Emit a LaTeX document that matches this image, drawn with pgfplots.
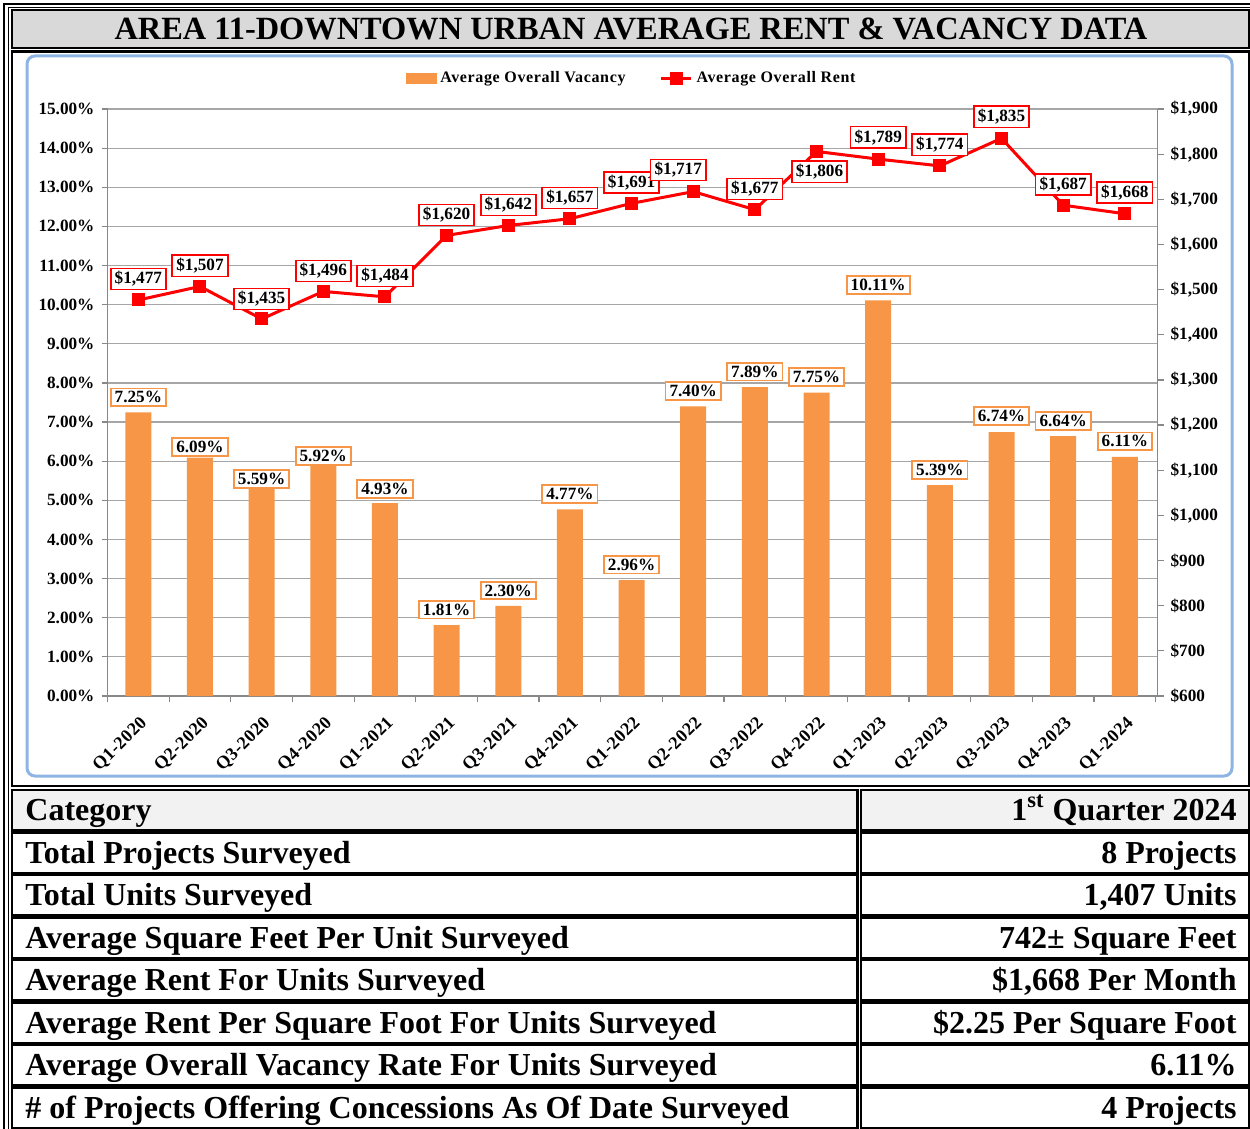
\documentclass[border=0pt]{standalone}
\usepackage{fontspec}
\setmainfont{Liberation Serif}
\usepackage{pgfplots}
\usepackage{pgfplotstable}
\pgfplotsset{compat=1.18}
\definecolor{barorange}{HTML}{F79646}
\definecolor{rentred}{HTML}{FF0000}
\definecolor{frameblue}{HTML}{8DB4E2}
\definecolor{titlegray}{HTML}{D9D9D9}
\definecolor{rowgray}{HTML}{F2F2F2}
\definecolor{gridgray}{HTML}{A6A6A6}
\definecolor{axisgray}{HTML}{888888}

\pgfplotstableread{
x vac vy rent rx ry
0 7.25 7.5 1477 0 10.5
1 6.09 5.4 1507 0 10.25
2 5.59 -0.85 1435 0 10
3 5.92 4.15 1496 0 10.2
4 4.93 7 1484 0 10.4
5 1.81 7.75 1620 0 10.2
6 2.30 7.75 1642 0 10.25
7 4.77 7.75 1657 0 10.35
8 2.96 7.75 1691 0 10.5
9 7.40 7.75 1717 -7.5 10.8
10 7.89 7.75 1677 0 10.35
11 7.75 7.75 1806 1.5 -10.25
12 10.11 7.75 1789 0 11
13 5.39 7.5 1774 0 10.5
14 6.74 8 1835 0 10.7
15 6.64 7.5 1687 0 10.5
16 6.11 7.75 1668 0 10.5
}\data

\newcommand{\lblfont}{\fontsize{8.6}{10}\selectfont\bfseries}
\newcommand{\xlblfont}{\fontsize{9}{10}\selectfont\bfseries\addfontfeatures{LetterSpace=3}}
\newcommand{\tabfont}{\fontsize{16}{19}\selectfont\bfseries}
\newcommand{\trow}[4]{%
  \draw[line width=1.3pt, fill=#4] (12,#1) rectangle (857.5,{#1+40.5});
  \draw[line width=1.3pt, fill=#4] (861,#1) rectangle (1249,{#1+40.5});
  \node[anchor=base west, inner sep=0pt, font=\tabfont] at (25,{#1+30.5}) {#2};
  \node[anchor=base east, inner sep=0pt, font=\tabfont] at (1237,{#1+30.5}) {#3};
}

\begin{document}
\begin{tikzpicture}
\begin{scope}[x=0.5pt,y=-0.5pt]
\useasboundingbox (0,0) rectangle (1250,1129);
\draw[line width=1.3pt] (4,4) rectangle (1270,1150);
\draw[line width=0.5pt] (8,8) rectangle (1266,1146);
\draw[line width=1.3pt, fill=titlegray] (12,10) rectangle (1249,48);
\node[anchor=base, inner sep=0pt, font=\fontsize{16.2}{19}\selectfont\bfseries] at (631,39.5) {AREA 11-DOWNTOWN URBAN AVERAGE RENT \& VACANCY DATA};
\draw[line width=1.3pt] (12,51.5) rectangle (1249,786);
\draw[line width=1.5pt, frameblue, rounded corners=4pt] (27,56) rectangle (1232,776);
\trow{790}{Category}{1\textsuperscript{st} Quarter 2024}{rowgray}
\trow{832.5}{Total Projects Surveyed}{8 Projects}{white}
\trow{875}{Total Units Surveyed}{1,407 Units}{white}
\trow{917.5}{Average Square Feet Per Unit Surveyed}{742± Square Feet}{white}
\trow{960}{Average Rent For Units Surveyed}{\$1,668 Per Month}{white}
\trow{1002.5}{Average Rent Per Square Foot For Units Surveyed}{\$2.25 Per Square Foot}{white}
\trow{1045}{Average Overall Vacancy Rate For Units Surveyed}{6.11\%}{white}
\trow{1087.5}{\# of Projects Offering Concessions As Of Date Surveyed}{4 Projects}{white}
\end{scope}

\begin{axis}[
  at={(53.75pt,-348pt)}, anchor=south west,
  width=525pt, height=293.5pt, scale only axis,
  xmin=-0.5, xmax=16.53, ymin=0, ymax=15,
  axis x line*=bottom, axis y line*=left,
  axis line style={axisgray, line width=0.6pt},
  ytick={0,1,...,15},
  /pgf/number format/assume math mode=true,
  yticklabel={\pgfmathprintnumber[fixed,fixed zerofill,precision=2]{\tick}\%},
  yticklabel style={font=\lblfont},
  ymajorgrids, grid style={gridgray, line width=0.6pt},
  xtick={-0.5,0.5,...,16.5}, xticklabels={},
  extra x ticks={0,1,...,16},
  extra x tick labels={Q1-2020,Q2-2020,Q3-2020,Q4-2020,Q1-2021,Q2-2021,Q3-2021,Q4-2021,Q1-2022,Q2-2022,Q3-2022,Q4-2022,Q1-2023,Q2-2023,Q3-2023,Q4-2023,Q1-2024},
  extra x tick style={major tick length=0pt, tick label style={rotate=45, anchor=north east, font=\xlblfont, xshift=-3pt, yshift=-3.5pt}},
  tick align=outside, major tick length=3pt,
  tick style={axisgray, line width=0.6pt},
  clip=false,
]
\addplot[ybar, bar width=13pt, fill=barorange, draw=none,
  nodes near coords={\pgfmathprintnumber[fixed,fixed zerofill,precision=2]{\pgfplotspointmeta}\%},
  visualization depends on={\thisrow{vy} \as \vy},
  every node near coord/.append style={font=\lblfont, text=black, draw=barorange, fill=white, line width=0.9pt, inner xsep=2pt, inner ysep=1.5pt, anchor=center, yshift=\vy pt}
] table[x=x, y=vac] {\data};
\end{axis}

\begin{axis}[
  at={(53.75pt,-348pt)}, anchor=south west,
  width=525pt, height=293.5pt, scale only axis,
  xmin=-0.5, xmax=16.53, ymin=600, ymax=1900,
  axis y line*=right, axis x line=none,
  axis line style={axisgray, line width=0.6pt},
  ytick={600,700,...,1900},
  /pgf/number format/assume math mode=true,
  yticklabel={\$\pgfmathprintnumber[fixed,precision=0,1000 sep={,}]{\tick}},
  yticklabel style={font=\lblfont},
  tick align=outside, major tick length=3pt, tick style={axisgray, line width=0.6pt},
  clip=false,
  legend style={at={(0.5,1.0528)}, anchor=center, draw=none, fill=none, legend columns=2,
    font=\fontsize{8}{9.6}\selectfont\bfseries\addfontfeatures{LetterSpace=4},
    /tikz/every even column/.append style={column sep=15pt}, inner sep=0pt},
  legend cell align=left,
]
\addlegendimage{legend image code/.code={\fill[barorange] (0pt,-2.5pt) rectangle (15pt,2.5pt);}}
\addlegendentry{Average Overall Vacancy}
\addplot[rentred, line width=1.5pt, mark=square*, mark size=2.5pt, mark options={solid},
  legend image code/.code={\draw[rentred,line width=1.5pt] (0pt,0pt) -- (15pt,0pt); \fill[rentred] (5pt,-2.5pt) rectangle (10pt,2.5pt);},
  nodes near coords={\$\pgfmathprintnumber[fixed,precision=0,1000 sep={,}]{\pgfplotspointmeta}},
  point meta=\thisrow{rent},
  visualization depends on={\thisrow{rx} \as \rx},
  visualization depends on={\thisrow{ry} \as \ry},
  every node near coord/.append style={font=\lblfont, text=black, draw=rentred, fill=white, line width=0.9pt, inner xsep=2pt, inner ysep=1.5pt, anchor=center, xshift=\rx pt, yshift=\ry pt}
] table[x=x,y=rent]{\data};
\addlegendentry{Average Overall Rent}
\end{axis}
\end{tikzpicture}
\end{document}
